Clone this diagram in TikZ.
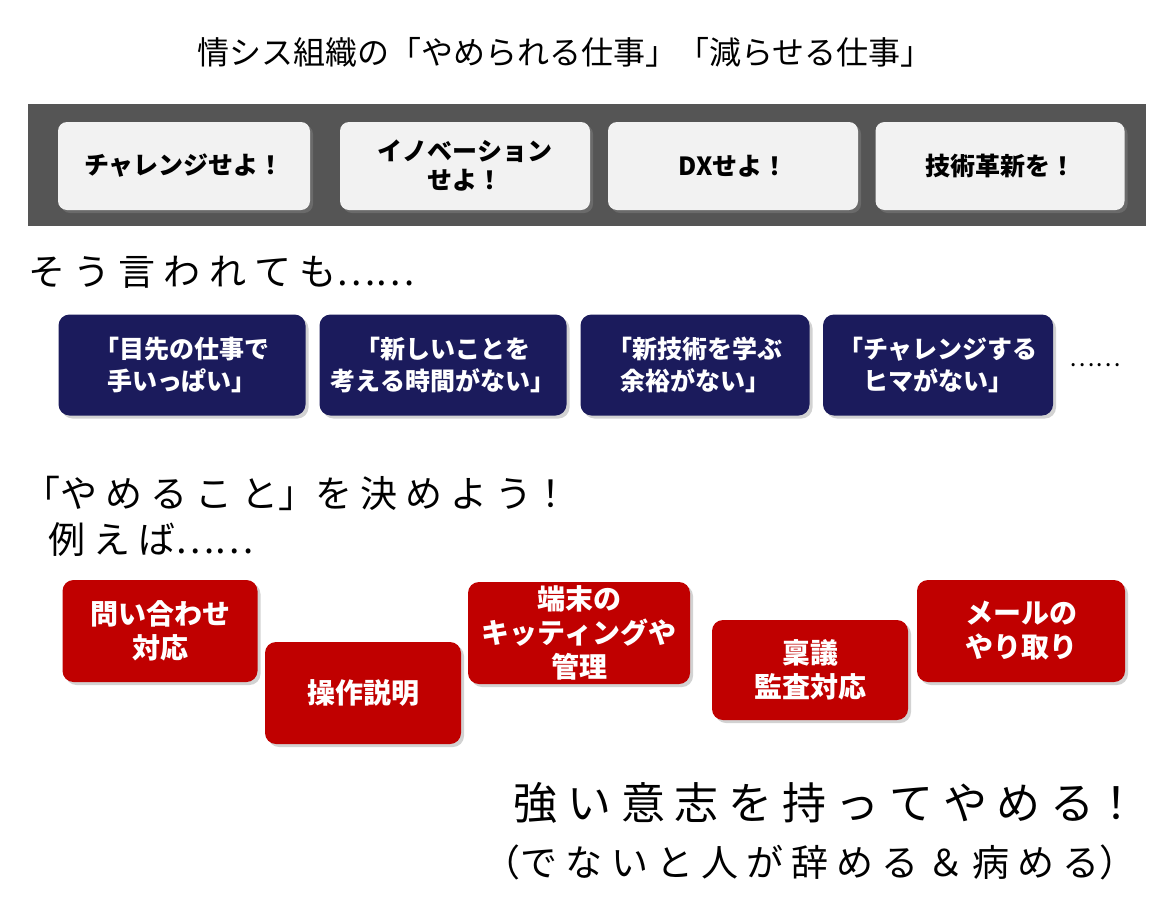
\documentclass[tikz,border=0pt]{standalone}
\usepackage{fontspec}
\setmainfont{Noto Sans CJK JP}
\newfontfamily\jplight{Noto Sans CJK JP}
\usetikzlibrary{positioning,shadows}
\definecolor{barGray}{HTML}{555555}
\definecolor{cardGray}{HTML}{F2F2F2}
\definecolor{navyBox}{HTML}{1B1B5C}
\definecolor{redBox}{HTML}{C00000}
\newcommand\gp{\hspace{0.22em}}
\tikzset{
  card/.style={rounded corners=9pt,fill=cardGray,align=center,
    font=\fontsize{25}{29}\selectfont\bfseries,
    drop shadow={shadow xshift=3pt,shadow yshift=-3pt,opacity=0.5}},
  navycard/.style={rounded corners=11pt,fill=navyBox,text=white,align=center,
    font=\fontsize{25}{32}\selectfont\bfseries,
    drop shadow={shadow xshift=3pt,shadow yshift=-3pt,opacity=0.35}},
  redcard/.style={rounded corners=11pt,fill=redBox,text=white,align=center,
    font=\fontsize{28}{34}\selectfont\bfseries,
    drop shadow={shadow xshift=3pt,shadow yshift=-3pt,opacity=0.35}},
  hand/.style={font=\jplight\fontsize{37}{40}\selectfont,anchor=west}
}
\begin{document}
\begin{tikzpicture}[x=1pt,y=-1pt]
\useasboundingbox[fill=white] (0,0) rectangle (1171,900);
\node[font=\fontsize{32}{36}\selectfont] (title) at (565,52)
  {情シス組織の「やめられる仕事」「減らせる仕事」};
\fill[barGray] (28,104) rectangle (1146,226);
% top cards
\node[card,minimum width=252pt,minimum height=88pt] (ch) at (184,166) {チャレンジせよ！};
\node[card,minimum width=250pt,minimum height=88pt] (inno) at (465,166) {イノベーション\\せよ！};
\node[card,minimum width=250pt,minimum height=88pt] (dx) at (733,166) {DXせよ！};
\node[card,minimum width=249pt,minimum height=88pt] (tech) at (1000,166) {技術革新を！};
\node[hand] (sou) at (25,272) {そ\gp う\gp 言\gp わ\gp れ\gp て\gp も……};
% navy cards
\node[navycard,minimum width=247pt,minimum height=101pt] (n1) at (182,365) {「目先の仕事で\\手いっぱい」};
\node[navycard,minimum width=247pt,minimum height=101pt] (n2) at (443,365) {「新しいことを\\考える時間がない」};
\node[navycard,minimum width=229pt,minimum height=101pt] (n3) at (695,365) {「新技術を学ぶ\\余裕がない」};
\node[navycard,minimum width=230pt,minimum height=101pt] (n4) at (938,365) {「チャレンジする\\ヒマがない」};
\node[font=\fontsize{24}{28}\selectfont] (dots) at (1095,365) {……};
\node[hand] (yame) at (20,493) {「や\gp め\gp る\gp こ\gp と」を\gp 決\gp め\gp よ\gp う！};
\node[hand] (tato) at (45,540) {例\gp え\gp ば……};
% red cards
\node[redcard,minimum width=195pt,minimum height=102pt] (r1) at (160,631) {問い合わせ\\対応};
\node[redcard,minimum width=196pt,minimum height=102pt] (r2) at (363,693) {操作説明};
\node[redcard,minimum width=222pt,minimum height=102pt] (r3) at (579,633) {端末の\\キッティングや\\管理};
\node[redcard,minimum width=196pt,minimum height=100pt] (r4) at (810,670) {稟議\\監査対応};
\node[redcard,minimum width=208pt,minimum height=102pt] (r5) at (1021,631) {メールの\\やり取り};
\node[hand,anchor=east,font=\jplight\fontsize{44}{48}\selectfont] (will) at (1142,803)
  {強\gp い\gp 意\gp 志\gp を\gp 持\gp っ\gp て\gp や\gp め\gp る！};
\node[hand,anchor=east,font=\jplight\fontsize{37}{40}\selectfont] (or) at (1140,862)
  {（で\gp な\gp い\gp と\gp 人\gp が\gp 辞\gp め\gp る\gp ＆\gp 病\gp め\gp る）};
\end{tikzpicture}
\end{document}
